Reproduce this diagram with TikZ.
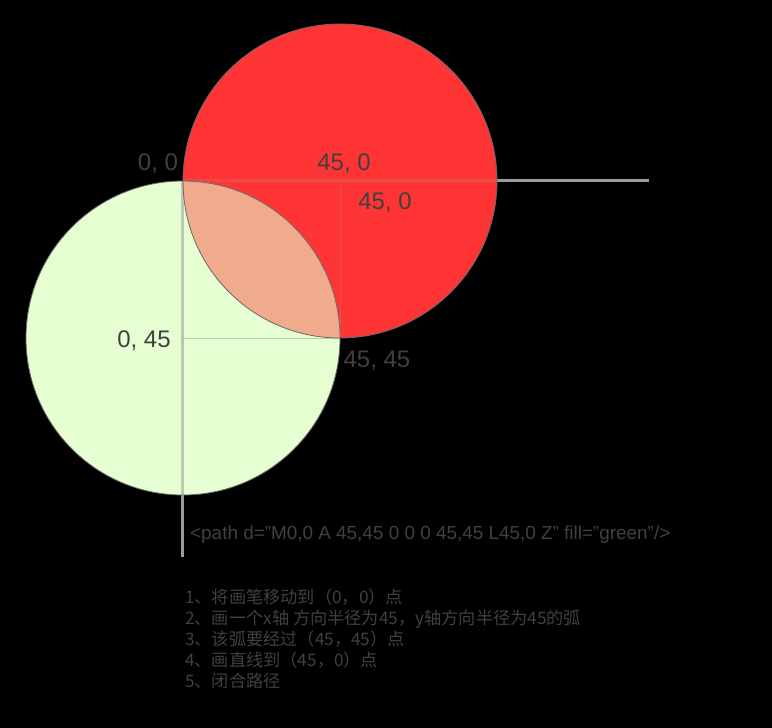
\documentclass[tikz,border=0pt]{standalone}
\usepackage{fontspec}
\setmainfont{Liberation Sans}
\newfontfamily\cjk{Noto Sans CJK SC}
\definecolor{redfill}{RGB}{255,52,52}
\definecolor{greenfill}{RGB}{230,255,210}
\definecolor{lensfill}{RGB}{240,170,140}
\definecolor{edgegray}{RGB}{105,105,105}
\definecolor{axisgray}{RGB}{155,155,155}
\definecolor{txtgray}{RGB}{64,64,64}
\tikzset{
  axis/.style={draw=axisgray, line width=3pt},
  thinaxis/.style={draw=axisgray, line width=1pt},
  lbl/.style={font=\fontsize{24}{28}\selectfont, text=txtgray, inner sep=0pt, anchor=base},
  codetxt/.style={font=\fontsize{18.9}{22}\selectfont, text=txtgray, inner sep=0pt, anchor=base west},
  steptxt/.style={font=\cjk\fontsize{17.2}{20}\selectfont, text=txtgray, inner sep=0pt, anchor=base west},
}
\begin{document}
\begin{tikzpicture}[x=1pt,y=-1pt]
\fill[black] (0,0) rectangle (772,728);
\useasboundingbox (0,0) rectangle (772,728);
% circles
\coordinate (rc) at (340,181);
\coordinate (gc) at (183,338);
\fill[redfill] (rc) circle[radius=157];
\fill[greenfill] (gc) circle[radius=157];
\begin{scope}
  \clip (rc) circle[radius=157];
  \fill[lensfill] (gc) circle[radius=157];
\end{scope}
% axes
\coordinate (o) at (182,180);
\coordinate (hx1) at (497,180);
\coordinate (hx2) at (649,180);
\coordinate (vy0) at (182,181);
\coordinate (vy1) at (182,495);
\coordinate (vy2) at (182,557);
\coordinate (p45a) at (340,181);
\coordinate (p4545) at (340,338);
\coordinate (p045) at (182,338);
\draw[axis, draw opacity=0.22] (o) -- (hx1);
\draw[axis] (hx1) -- (hx2);
\draw[axis, draw opacity=0.55] (vy0) -- (vy1);
\draw[axis] (vy1) -- (vy2);
\draw[thinaxis, draw opacity=0.5] (p045) -- (p4545);
\draw[thinaxis, draw opacity=0.3] (p45a) -- (p4545);
% outlines
\draw[edgegray, line width=0.8pt] (rc) circle[radius=157];
\draw[edgegray, line width=0.8pt] (gc) circle[radius=157];
% labels
\node[lbl] (l00) at (158,170) {0, 0};
\node[lbl] (l450a) at (344,170) {45, 0};
\node[lbl] (l450b) at (385,209) {45, 0};
\node[lbl] (l045) at (144,347) {0, 45};
\node[lbl] (l4545) at (377,367) {45, 45};
\node[codetxt] (code) at (190,539) {<path d="M0,0 A 45,45 0 0 0 45,45 L45,0 Z" fill="green"/>};
\node[steptxt] (s1) at (185,603) {1、将画笔移动到（0，0）点};
\node[steptxt] (s2) at (185,624) {2、画一个x轴 方向半径为45，y轴方向半径为45的弧};
\node[steptxt] (s3) at (185,645) {3、该弧要经过（45，45）点};
\node[steptxt] (s4) at (185,666) {4、画直线到（45，0）点};
\node[steptxt] (s5) at (185,687) {5、闭合路径};
\end{tikzpicture}
\end{document}
